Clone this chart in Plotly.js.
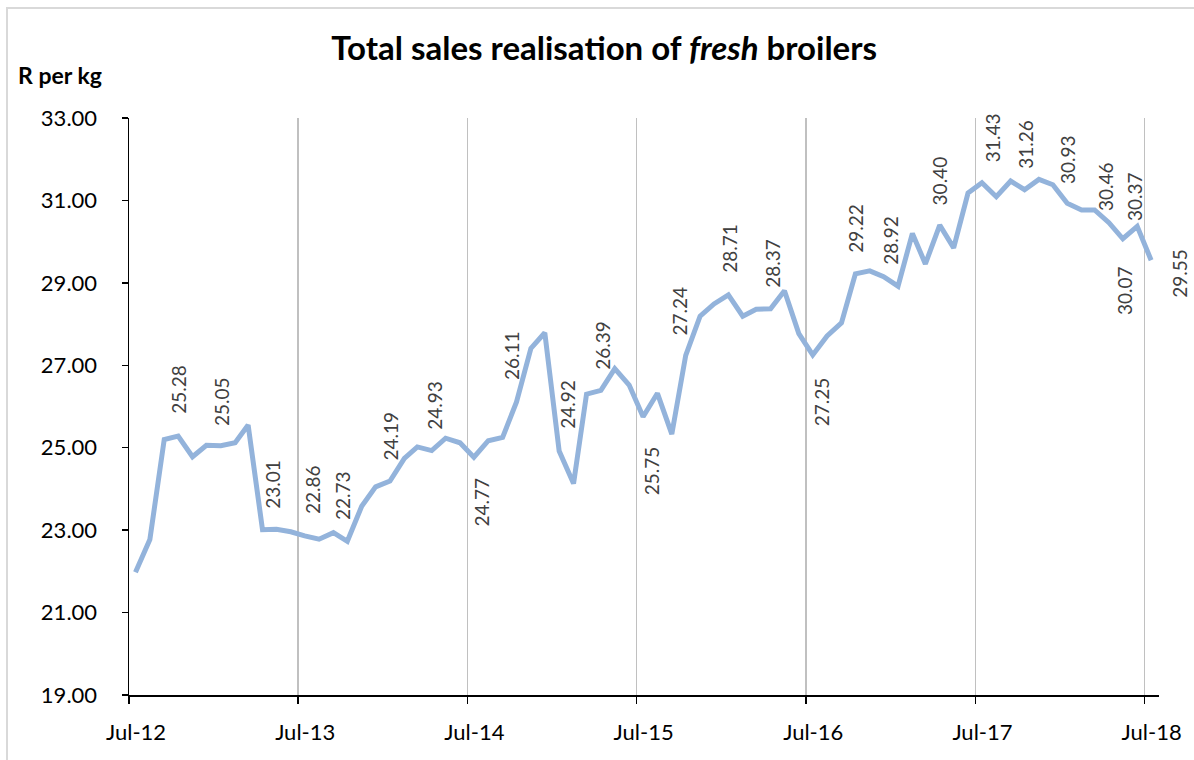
<!DOCTYPE html>
<html>
<head>
<meta charset="utf-8">
<script src="https://cdn.plot.ly/plotly-3.0.1.min.js"></script>
<style>
  html, body { margin: 0; padding: 0; background: #ffffff; overflow: hidden; }
  #chart { width: 1194px; height: 760px; position: absolute; left: 0; top: 0; }
  #frame { position: absolute; left: 6px; top: 7px; width: 1300px; height: 900px;
           border: 2px solid #d9d9d9; pointer-events: none; }
</style>
</head>
<body>
<div id="chart"></div>
<div id="frame"></div>
<script>
// ---- Data ----
const months = [
  '2012-07','2012-08','2012-09','2012-10','2012-11','2012-12',
  '2013-01','2013-02','2013-03','2013-04','2013-05','2013-06','2013-07','2013-08','2013-09','2013-10','2013-11','2013-12',
  '2014-01','2014-02','2014-03','2014-04','2014-05','2014-06','2014-07','2014-08','2014-09','2014-10','2014-11','2014-12',
  '2015-01','2015-02','2015-03','2015-04','2015-05','2015-06','2015-07','2015-08','2015-09','2015-10','2015-11','2015-12',
  '2016-01','2016-02','2016-03','2016-04','2016-05','2016-06','2016-07','2016-08','2016-09','2016-10','2016-11','2016-12',
  '2017-01','2017-02','2017-03','2017-04','2017-05','2017-06','2017-07','2017-08','2017-09','2017-10','2017-11','2017-12',
  '2018-01','2018-02','2018-03','2018-04','2018-05','2018-06','2018-07'
];
const salesRealisation = [
  21.98, 22.77, 25.20, 25.28, 24.78, 25.06,
  25.05, 25.12, 25.55, 23.01, 23.02, 22.96, 22.86, 22.78, 22.94, 22.73, 23.58, 24.05,
  24.19, 24.74, 25.02, 24.93, 25.23, 25.12, 24.77, 25.17, 25.25, 26.11, 27.41, 27.79,
  24.92, 24.13, 26.30, 26.39, 26.92, 26.52, 25.75, 26.32, 25.33, 27.24, 28.19, 28.49,
  28.71, 28.19, 28.36, 28.37, 28.81, 27.77, 27.25, 27.71, 28.03, 29.22, 29.29, 29.15,
  28.92, 30.20, 29.46, 30.40, 29.85, 31.18, 31.43, 31.09, 31.47, 31.26, 31.51, 31.38,
  30.93, 30.77, 30.77, 30.46, 30.07, 30.37, 29.55
];
const labelledPoints = [3,6,9,12,15,18,21,24,27,30,33,36,39,42,45,48,51,54,57,60,63,66,69,70,71,72];
const yTickValues = [19,21,23,25,27,29,31,33];

// ---- Styling / label placement (pixel offsets, not data) ----
const FONT = 'Lato, "Open Sans", sans-serif';
// [side, dx (px), gap from point (px)]
const labelPlacement = {
  3:['above',1,25], 6:['above',0,23], 9:['above',10,24], 12:['above',8,25], 15:['above',-5,24],
  18:['above',1,24], 21:['above',2,24], 24:['below',8,18], 27:['above',-5,25], 30:['above',8,25],
  33:['above',2,24], 36:['below',8,28], 39:['above',-6,23], 42:['above',1,25], 45:['above',2,24],
  48:['below',9,20], 51:['above',0,24], 54:['above',-7,24], 57:['above',0,23], 60:['above',10,24],
  63:['above',1,24], 66:['above',1,22], 69:['above',-4,15], 70:['below',1,25], 71:['above',-2,8],
  72:['right',15,-13]
};

const dates = months.map(m => m + '-15');

const annotations = labelledPoints.map(i => {
  const [side, dx, gap] = labelPlacement[i];
  const a = {
    x: dates[i], y: salesRealisation[i], xref: 'x', yref: 'y',
    text: salesRealisation[i].toFixed(2), showarrow: false, textangle: -90,
    font: { family: FONT, size: 19, color: '#404040' }
  };
  if (side === 'right') {
    Object.assign(a, { xanchor: 'left', yanchor: 'middle', xshift: dx, yshift: gap });
  } else if (side === 'below') {
    Object.assign(a, { xanchor: 'center', yanchor: 'top', xshift: dx, yshift: -gap });
  } else {
    Object.assign(a, { xanchor: 'center', yanchor: 'bottom', xshift: dx, yshift: gap - 5 });
  }
  return a;
});

annotations.push({
  xref: 'paper', yref: 'paper', x: -0.1097, y: 1.0745, xanchor: 'left', yanchor: 'middle',
  text: '<b>R per kg</b>', showarrow: false,
  font: { family: FONT, size: 23, color: '#000000' }
});

const trace = {
  x: dates, y: salesRealisation, type: 'scatter', mode: 'lines',
  line: { color: '#93b3db', width: 5, shape: 'linear' },
  hoverinfo: 'x+y'
};

const layout = {
  width: 1194, height: 760,
  margin: { l: 129, r: 35, t: 118, b: 65 },
  paper_bgcolor: '#ffffff', plot_bgcolor: '#ffffff',
  showlegend: false,
  title: {
    text: '<b>Total sales realisation of <i>fresh</i> broilers</b>',
    font: { family: FONT, size: 33, color: '#000000' },
    xref: 'container', yref: 'container', x: 0.506, y: 1 - 48/760,
    xanchor: 'center', yanchor: 'middle'
  },
  xaxis: {
    type: 'date',
    range: ['2012-07-01', '2018-08-01'],
    tick0: '2012-07-01', dtick: 'M12', tickformat: '%b-%y',
    ticks: 'outside', ticklen: 7, tickwidth: 1.5, tickcolor: '#000000',
    ticklabelshift: 7, ticklabelstandoff: 10,
    showgrid: true, gridcolor: '#c0c0c0', gridwidth: 1.5,
    showline: true, linecolor: '#000000', linewidth: 1.5,
    zeroline: false,
    tickfont: { family: FONT, size: 22, color: '#000000' },
    fixedrange: true
  },
  yaxis: {
    range: [19, 33],
    tickvals: yTickValues, tickformat: '.2f',
    ticks: 'outside', ticklen: 6, tickwidth: 1.5, tickcolor: '#000000',
    ticklabelstandoff: 20,
    showgrid: false, zeroline: false,
    showline: true, linecolor: '#000000', linewidth: 1.5,
    tickfont: { family: FONT, size: 22, color: '#000000' },
    fixedrange: true
  },
  annotations: annotations
};

Plotly.newPlot('chart', [trace], layout, { staticPlot: true, displayModeBar: false });
</script>
</body>
</html>
